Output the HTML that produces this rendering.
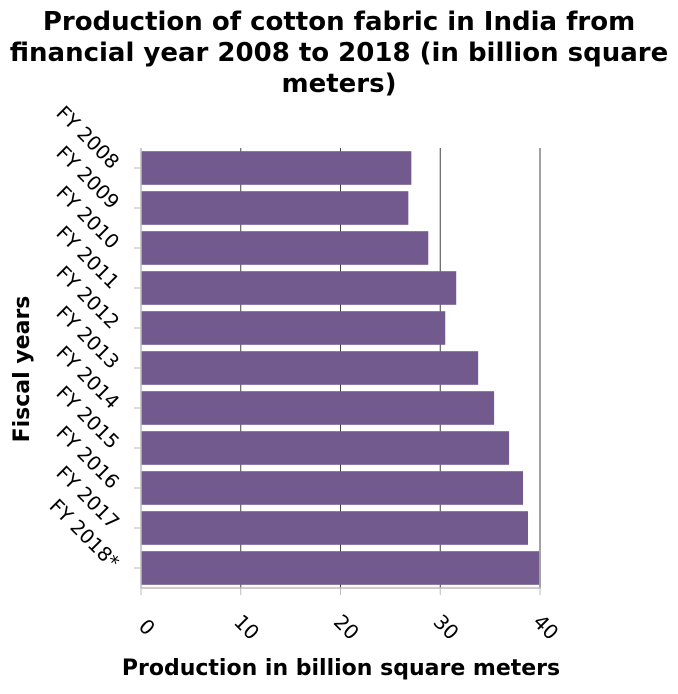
<!DOCTYPE html>
<html><head><meta charset="utf-8"><style>
body{margin:0;background:#fff;font-family:"DejaVu Sans","Liberation Sans",sans-serif}
</style></head><body>
<svg width="678" height="690" viewBox="0 0 678 690" xmlns="http://www.w3.org/2000/svg" font-family="DejaVu Sans, Liberation Sans, sans-serif">
<g font-weight="bold" font-size="26" text-anchor="middle" fill="#000">
<text x="339" y="30">Production of cotton fabric in India from</text>
<text x="339" y="61">financial year 2008 to 2018 (in billion square</text>
<text x="339" y="92">meters)</text>
</g>
<g id="grid"></g><g id="bars"></g><g id="axes"></g>
<text x="341" y="675" font-size="22" font-weight="bold" text-anchor="middle">Production in billion square meters</text>
<text transform="translate(29,369) rotate(-90)" font-size="22" font-weight="bold" text-anchor="middle">Fiscal years</text>
</svg>
<script>
const categories=["FY 2008","FY 2009","FY 2010","FY 2011","FY 2012","FY 2013","FY 2014","FY 2015","FY 2016","FY 2017","FY 2018*"];
const values=[27.1,26.8,28.8,31.6,30.5,33.8,35.4,36.9,38.3,38.8,39.9];
const xTicks=[0,10,20,30,40];
const NS="http://www.w3.org/2000/svg";
const X0=141,X1=540,Y0=148,Y1=588;
const x=v=>X0+(v-0)/(40-0)*(X1-X0);
const band=(Y1-Y0)/categories.length;
const yb=i=>Y0+i*band;
function mk(t,a,p){const e=document.createElementNS(NS,t);for(const k in a)e.setAttribute(k,a[k]);p.appendChild(e);return e;}
const grid=document.getElementById('grid'),bars=document.getElementById('bars'),axes=document.getElementById('axes');
xTicks.forEach(t=>{
  if(t>0){const g=mk('line',{x1:x(t),x2:x(t),y1:Y0,y2:Y1,stroke:'#444','stroke-width':1},grid);
  
  }
  const tk=mk('line',{x1:x(t),x2:x(t),y1:Y1,y2:Y1+7,stroke:'#bbb','stroke-width':1},axes);
  
  
  const tx=mk('text',{transform:`translate(${x(t)+1},${Y1+44}) rotate(45)`,'font-size':20,'text-anchor':'middle'},axes);
  tx.textContent=t;
  
  
});
categories.forEach((c,i)=>{
  const pad=band*0.08;
  const r=mk('rect',{x:X0,y:yb(i)+pad,width:x(values[i])-X0,height:band-2*pad,fill:'#725a8e'},bars);
  
  
  const cy=yb(i)+band/2;
  const tk=mk('line',{x1:X0-7,x2:X0,y1:cy,y2:cy,stroke:'#bbb','stroke-width':1},axes);
  
  
  const tx=mk('text',{transform:`translate(${X0-30},${cy+2}) rotate(45)`,'font-size':19.5,'text-anchor':'end'},axes);
  tx.textContent=c;
  
  
});
const ax=mk('line',{x1:X0,x2:X1+1,y1:Y1,y2:Y1,stroke:'#bbb','stroke-width':1.5},axes);


const ay=mk('line',{x1:X0,x2:X0,y1:Y0,y2:Y1,stroke:'#bbb','stroke-width':1.5},axes);


</script>
</body></html>
